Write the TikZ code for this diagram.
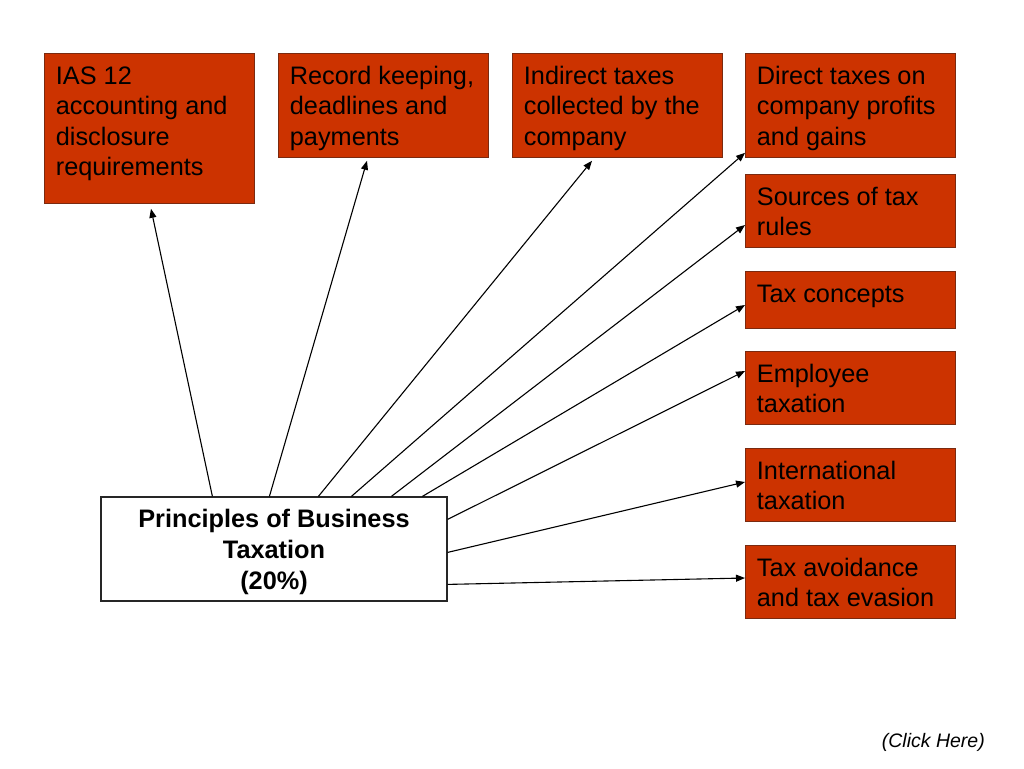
\documentclass[tikz,border=0pt]{standalone}
\usepackage{fontspec}
\setmainfont{Liberation Sans}
\usetikzlibrary{arrows.meta,calc}
\definecolor{boxfill}{HTML}{CC3300}
\definecolor{boxline}{HTML}{7A2A10}
\newcommand{\bxt}[3]{\parbox[c][#2][t]{#1}{\leftskip=11.5pt\rightskip=0pt plus 1fil\parindent=0pt\rule{0pt}{31pt}#3}}
\tikzset{
  obox/.style={draw=boxline, line width=0.8pt, fill=boxfill, inner sep=0pt, anchor=north west,
    font=\fontsize{25.3}{30.5}\selectfont, text=black},
  mbox/.style={draw=black!85, line width=1.2pt, fill=white, minimum width=346pt, minimum height=104pt,
    inner sep=0pt, align=center, font=\fontsize{25.3}{31}\selectfont\bfseries},
  arr/.style={-{Triangle[length=9pt,width=7pt]}, line width=1.1pt, black}
}
\begin{document}
\begin{tikzpicture}[x=1pt,y=-1pt]
\useasboundingbox (0,0) rectangle (1024,768);
\node[obox] (ias) at (44,53) {\bxt{210pt}{150pt}{IAS 12\\accounting and\\disclosure\\requirements}};
\node[obox] (rec) at (278,53) {\bxt{210pt}{104pt}{Record keeping,\\deadlines and\\payments}};
\node[obox] (ind) at (512,53) {\bxt{210pt}{104pt}{Indirect taxes\\collected by the\\company}};
\node[obox] (dir) at (745,53) {\bxt{210pt}{104pt}{Direct taxes on\\company profits\\and gains}};
\node[obox] (src) at (745,174) {\bxt{210pt}{73pt}{Sources of tax\\rules}};
\node[obox] (con) at (745,271) {\bxt{210pt}{57pt}{Tax concepts}};
\node[obox] (emp) at (745,351) {\bxt{210pt}{73pt}{Employee\\taxation}};
\node[obox] (int) at (745,448) {\bxt{210pt}{73pt}{International\\taxation}};
\node[obox] (avo) at (745,545) {\bxt{210pt}{73pt}{Tax avoidance\\and tax evasion}};
\node[mbox] (main) at (274,549) {\rule{0pt}{24.5pt}Principles of Business\\Taxation\\(20\%)};
\node[anchor=base east, font=\fontsize{19.5}{23}\selectfont\itshape, inner sep=0pt] (click) at (985,747) {(Click Here)};
\draw[arr] ($(main.north west)+(112,0)$) -- ($(ias.south west)+(107,5)$);
\draw[arr] ($(main.north west)+(169,0)$) -- ($(rec.south west)+(89,3)$);
\draw[arr] ($(main.north west)+(218,0)$) -- ($(ind.south west)+(80,3)$);
\draw[arr] ($(main.north west)+(251,0)$) -- ($(dir.south west)+(0,-5)$);
\draw[arr] ($(main.north west)+(291,0)$) -- ($(src.north west)+(0,51)$);
\draw[arr] ($(main.north west)+(322,0)$) -- ($(con.north west)+(0,34)$);
\draw[arr] ($(main.north east)+(0,23)$) -- ($(emp.north west)+(0,20)$);
\draw[arr] ($(main.north east)+(0,56)$) -- ($(int.north west)+(0,34)$);
\draw[arr] ($(main.north east)+(0,88)$) -- ($(avo.north west)+(0,33)$);
\end{tikzpicture}
\end{document}
